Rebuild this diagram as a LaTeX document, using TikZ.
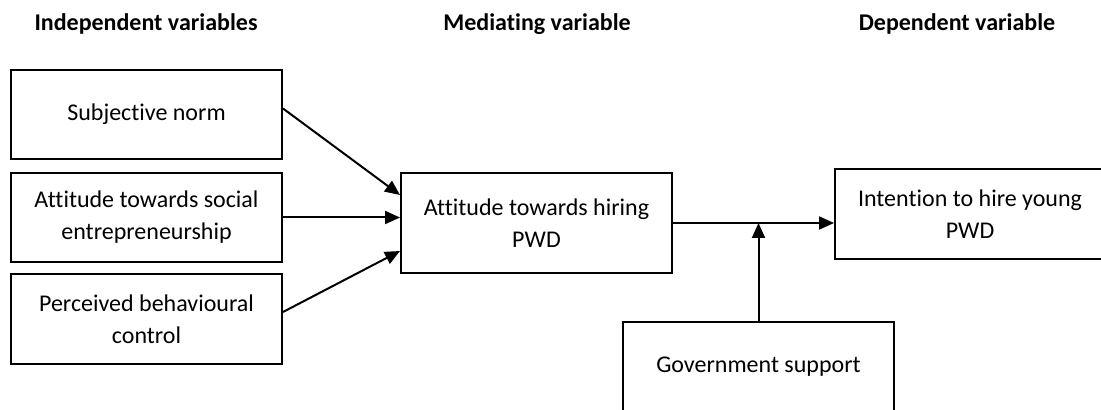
\documentclass[tikz,border=0pt]{standalone}
\usepackage{fontspec}
\setmainfont{Carlito}[Ligatures={NoCommon}]
\usepackage{tikz}
\usetikzlibrary{arrows.meta}

\begin{document}
\begin{tikzpicture}[x=0.5pt, y=-0.5pt,
	box/.style={draw, line width=1pt, inner sep=0pt, minimum width=135.5pt, minimum height=44.5pt, align=center, font=\fontsize{12}{16}\selectfont},
	head/.style={font=\fontsize{12}{14}\selectfont\bfseries},
	arrow/.style={line width=1pt, -{Triangle[length=7.5pt,width=6.5pt]}}]
			\useasboundingbox (0,0) rectangle (1101,410);
			\node[head] (hind) at (146,24) {Independent variables};
			\node[head] (hmed) at (537,24) {Mediating variable};
			\node[head] (hdep) at (957,24) {Dependent variable};
			\node[box] (subj) at (146.5,114.5) {Subjective norm};
			\node[box] (soc) at (146.5,217.5) {Attitude towards social\\entrepreneurship};
			\node[box, minimum height=45pt] (perc) at (146.5,319) {Perceived behavioural\\control};
			\node[box, minimum height=50pt] (med) at (536.5,223) {Attitude towards hiring\\PWD};
			\node[box, minimum width=135pt, minimum height=45pt] (int) at (970,214) {Intention to hire young\\PWD};
			\node[box, minimum height=45pt] (gov) at (758.5,367) {Government support};
			\coordinate (join) at (gov.north |- med.east);
			\draw[arrow] ([yshift=3pt]subj.east) -- ([yshift=14pt]med.west);
			\draw[arrow] (soc.east) -- (soc.east -| med.west);
			\draw[arrow] ([yshift=3.5pt]perc.east) -- ([yshift=-14pt]med.west);
			\draw[arrow] (med.east) -- (med.east -| int.west);
			\draw[arrow] (gov.north) -- (join);
		\end{tikzpicture}
\end{document}
